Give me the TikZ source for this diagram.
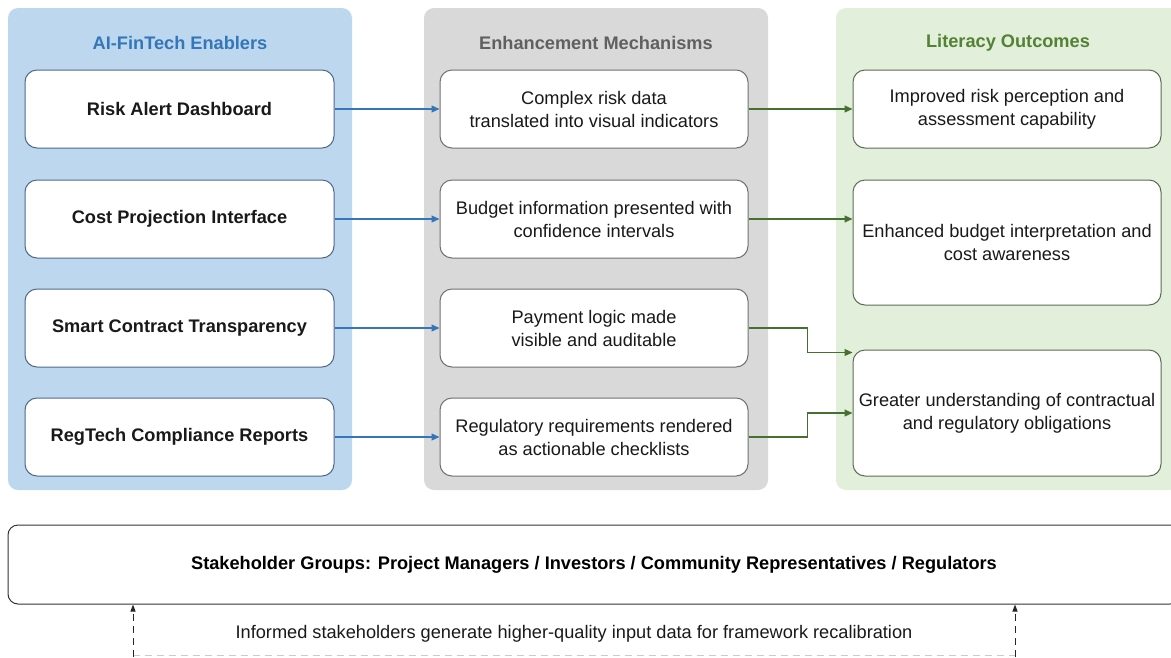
\documentclass[tikz,border=0pt]{standalone}
\usepackage{fontspec}
\setmainfont{Liberation Sans}
\usetikzlibrary{arrows.meta, positioning, calc}

\definecolor{enfill}{RGB}{189,215,238}
\definecolor{entext}{RGB}{52,118,184}
\definecolor{enline}{RGB}{78,104,140}
\definecolor{mefill}{RGB}{217,217,217}
\definecolor{metext}{RGB}{96,96,96}
\definecolor{meline}{RGB}{112,112,112}
\definecolor{lofill}{RGB}{226,239,218}
\definecolor{lotext}{RGB}{84,130,53}
\definecolor{loline}{RGB}{92,108,82}
\definecolor{loarrow}{RGB}{70,112,48}

\begin{document}
\begin{tikzpicture}[x=1pt, y=-1pt, font=\fontsize{18.2}{23}\selectfont,
    panel/.style={rounded corners=10pt, minimum width=344pt, minimum height=482pt, inner sep=0pt},
    paneltitle/.style={font=\fontsize{18.2}{23}\selectfont\bfseries},
    card/.style={draw, fill=white, rounded corners=12pt, line width=1pt, minimum width=308pt, minimum height=78pt, inner sep=0pt, align=center, text=black!90},
    encard/.style={card, draw=enline, font=\fontsize{18.2}{23}\selectfont\bfseries},
    mecard/.style={card, draw=meline},
    locard/.style={card, draw=loline},
    bluearrow/.style={-{Triangle[length=8pt,width=7pt]}, draw=entext, line width=1.1pt},
    greenarrow/.style={-{Triangle[length=8pt,width=7pt]}, draw=loarrow, line width=1.1pt},
    feedback/.style={-{Triangle[length=7pt,width=5pt]}, draw=black!85, line width=1pt, dash pattern=on 7pt off 5pt}]

    \useasboundingbox (0,0) rectangle (1171,657);
    \clip (0,0) rectangle (1171,657);

    % three columns
    \node[panel, fill=enfill] (enpanel) at (180,249) {};
    \node[panel, fill=mefill] (mepanel) at (596,249) {};
    \node[panel, fill=lofill] (lopanel) at (1008,249) {};
    \node[paneltitle, text=entext] (entitle) at (180,43) {AI-FinTech Enablers};
    \node[paneltitle, text=metext] (metitle) at (596,43) {Enhancement Mechanisms};
    \node[paneltitle, text=lotext] (lotitle) at (1008,43) {Literacy Outcomes};

    % enablers
    \node[encard, minimum width=309pt] (en1) at (179.5,109) {Risk Alert Dashboard};
    \node[encard, minimum width=309pt] (en2) at (179.5,219) {Cost Projection Interface};
    \node[encard, minimum width=309pt] (en3) at (179.5,328) {Smart Contract Transparency};
    \node[encard, minimum width=309pt] (en4) at (179.5,437) {RegTech Compliance Reports};

    % mechanisms
    \node[mecard] (me1) at (594,109) {Complex risk data\\translated into visual indicators};
    \node[mecard] (me2) at (594,219) {Budget information presented with\\confidence intervals};
    \node[mecard] (me3) at (594,328) {Payment logic made\\visible and auditable};
    \node[mecard] (me4) at (594,437) {Regulatory requirements rendered\\as actionable checklists};

    % outcomes
    \node[locard] (lo1) at (1007,109) {Improved risk perception and\\assessment capability};
    \node[locard, minimum height=125pt] (lo2) at (1007,242.5) {Enhanced budget interpretation and\\cost awareness};
    \node[locard, minimum height=126pt] (lo3) at (1007,413) {Greater understanding of contractual\\and regulatory obligations};

    \foreach \i in {1,...,4}
        \draw[bluearrow] (en\i) -- (me\i);

    \draw[greenarrow] (me1) -- (lo1);
    \draw[greenarrow] (me2.east) -- (me2.east -| lo2.west);
    \draw[greenarrow] (me3.east) -- ++(59,0) |- ($(lo3.north west)+(0,3)$);
    \draw[greenarrow] (me4.east) -- ++(59,0) |- (lo3.west);

    % stakeholders and feedback loop
    \node[draw=black!80, line width=1pt, rounded corners=10pt, minimum width=1172pt, minimum height=79pt, inner sep=0pt, font=\fontsize{18.2}{23}\selectfont\bfseries] (stake) at (594,564.5)
        {Stakeholder Groups: Project Managers / Investors / Community Representatives / Regulators};
    \coordinate (fbl) at (133,657);
    \coordinate (fbr) at (1015,657);
    \draw[black!20, line width=1pt, dash pattern=on 7pt off 5pt] ($(fbl)+(0,-2)$) -- ($(fbr)+(0,-2)$);
    \draw[feedback] (fbl) -- (fbl |- stake.south);
    \draw[feedback] (fbr) -- (fbr |- stake.south);
    \node[text=black!90] (fbnote) at (574,634) {Informed stakeholders generate higher-quality input data for framework recalibration};
\end{tikzpicture}
\end{document}
